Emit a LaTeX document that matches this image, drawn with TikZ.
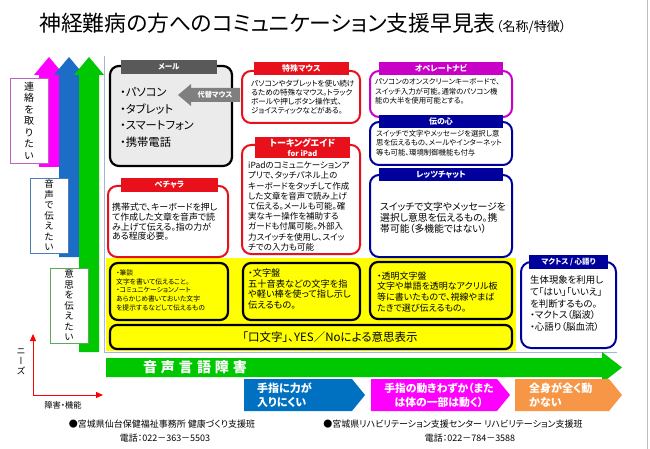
\documentclass[tikz,border=0pt]{standalone}
\usepackage{fontspec}
\setmainfont{Noto Sans CJK JP}[RawFeature=+palt]
\newfontfamily\jpv{Noto Sans CJK JP}[RawFeature=+vert]
\usetikzlibrary{arrows.meta}
\definecolor{magA}{HTML}{FF00FF}
\definecolor{blueA}{HTML}{1C6DC6}
\definecolor{greenA}{HTML}{00C800}
\definecolor{boxred}{HTML}{E8101A}
\definecolor{boxpurple}{HTML}{C800C8}
\definecolor{boxnavy}{HTML}{00009C}
\definecolor{tabgray}{HTML}{595959}
\definecolor{mailgray}{HTML}{EBEBEB}
\definecolor{altgray}{HTML}{7F7F7F}
\definecolor{ybg}{HTML}{FFFF00}
\definecolor{chevblue}{HTML}{0070C0}
\definecolor{chevorange}{HTML}{F79646}
\definecolor{framecol}{HTML}{9DB8D8}
\definecolor{lblmag}{HTML}{C060C0}
\definecolor{lblblue}{HTML}{4A7EBB}
\definecolor{lblgreen}{HTML}{5AAA5A}
\tikzset{
  txt/.style={inner sep=0pt, align=left, anchor=north west},
  tabtxt/.style={inner sep=0pt, text=white, align=center, font=\bfseries\fontsize{8}{9}\selectfont},
  cardred/.style={draw=boxred, line width=2pt, rounded corners=9pt, fill=white},
  cardpur/.style={draw=boxpurple, line width=2pt, rounded corners=9pt, fill=white},
  cardnavy/.style={draw=boxnavy, line width=2pt, rounded corners=9pt, fill=white},
  cardyel/.style={draw=black, line width=2.2pt, rounded corners=8pt, fill=ybg},
  lblbox/.style={fill=white, line width=0.8pt, minimum width=38pt, inner sep=0pt, align=center},
  chevtxt/.style={inner sep=0pt, text=white, font=\bfseries\fontsize{11}{14}\selectfont},
  foottxt/.style={inner sep=0pt, font=\fontsize{9}{10}\selectfont},
  axisarrow/.style={draw=red, line width=1pt, -{Triangle[length=7pt,width=6pt]}}
}
\begin{document}
\begin{tikzpicture}[x=1pt,y=-1pt]
\useasboundingbox (0,0) rectangle (650,449);
\fill[white] (0,0) rectangle (650,449);
\draw[gray!50, line width=1pt] (647,0) -- (647,449);

% title
\node[inner sep=0pt, anchor=west, font=\fontsize{21.8}{24}\selectfont] (title) at (39,23) {神経難病の方へのコミュニケーション支援早見表};
\node[inner sep=0pt, anchor=west, font=\fontsize{13}{14}\selectfont] (titlesub) at (title.east |- 0,27) {（名称/特徴）};

% vertical block arrows
\fill[magA] (39,167) -- (39,75) -- (34,75) -- (49,57) -- (64,75) -- (59,75) -- (59,167) -- cycle;
\fill[blueA] (59,257) -- (59,75) -- (54,75) -- (69,57) -- (84,75) -- (79,75) -- (79,257) -- cycle;
\fill[greenA] (79,352) -- (79,75) -- (74,75) -- (89,57) -- (104,75) -- (99,75) -- (99,352) -- cycle;

% label boxes
\node[lblbox, draw=lblmag, minimum height=85pt, font=\jpv\fontsize{10}{11.5}\selectfont] (lblmail) at (29,120.5) {連\\絡\\を\\取\\り\\た\\い};
\node[lblbox, draw=lblblue, minimum height=75pt, font=\jpv\fontsize{9.5}{10.5}\selectfont] (lblvoice) at (49,215.5) {音\\声\\で\\伝\\え\\た\\い};
\node[lblbox, draw=lblgreen, minimum height=75pt, font=\jpv\fontsize{9.5}{10.5}\selectfont] (lblintent) at (69,305.5) {意\\思\\を\\伝\\え\\た\\い};

% axes
\coordinate (ax0) at (33,395);
\coordinate (axy) at (33,334);
\coordinate (axx) at (103,395);
\draw[axisarrow] (ax0) -- (axy);
\draw[axisarrow] (ax0) -- (axx);
\node[inner sep=0pt, align=center, font=\jpv\fontsize{9}{10}\selectfont] (needs) at (21,362) {ニ\\ー\\ズ};
\node[inner sep=0pt, font=\fontsize{8.3}{9}\selectfont] (func) at (63,405) {障害・機能};

% frame and yellow background
\fill[ybg] (106,258) rectangle (516,351);
\draw[framecol, line width=0.9pt] (104,56) -- (104,352) -- (617,352);

% mail box
\draw[draw=black, line width=2.2pt, rounded corners=9pt, fill=mailgray] (110,66) rectangle (232,166);
\fill[tabgray] (121,60) rectangle (217,74);
\node[tabtxt, font=\bfseries\fontsize{7.5}{9}\selectfont] (mailtab) at (169,67) {メール};
\node[txt, font=\fontsize{11.3}{16.5}\selectfont] (mailitems) at (120,87.3) {・パソコン\\・タブレット\\・スマートフォン\\・携帯電話};
\fill[altgray] (178,95) -- (191,84) -- (191,88) -- (240,88) -- (240,102) -- (191,102) -- (191,106) -- cycle;
\node[tabtxt, font=\bfseries\fontsize{7.2}{8}\selectfont] (altmouse) at (215,95) {代替マウス};

% special mouse
\draw[cardred] (242,71) rectangle (360,123);
\fill[boxred] (254,62) rectangle (349,75);
\node[tabtxt] (sptab) at (301.5,68.5) {特殊マウス};
\node[txt, font=\fontsize{7.6}{9}\selectfont] (sptext) at (251,80.2) {パソコンやタブレットを使い続け\\るための特殊なマウス。トラック\\ボールや押しボタン操作式、\\ジョイスティックなどがある。};

% talking aid
\draw[cardred] (242,145) rectangle (360,254);
\fill[boxred] (255,137) rectangle (350,158);
\node[tabtxt, font=\bfseries\fontsize{9}{10}\selectfont] (tatab) at (302.5,147.5) {トーキングエイド\\{\fontsize{7.5}{9}\selectfont for iPad}};
\node[txt, font=\fontsize{8.5}{10.2}\selectfont] (tatext) at (248,161.8) {iPadのコミュニケーションア\\プリで、タッチパネル上の\\キーボードをタッチして作成\\した文章を音声で読み上げ\\て伝える。メールも可能。確\\実なキー操作を補助する\\ガードも付属可能。外部入\\力スイッチを使用し、スイッ\\チでの入力も可能};

% pechara
\draw[cardred] (108,186) rectangle (228,257);
\fill[boxred] (121,178) rectangle (218,192);
\node[tabtxt] (pctab) at (169.5,185) {ペチャラ};
\node[txt, font=\fontsize{8.9}{9.9}\selectfont] (pctext) at (112,202.6) {携帯式で、キーボードを押し\\て作成した文章を音声で読\\み上げて伝える。指の力が\\ある程度必要。};

% operate navi
\draw[cardpur] (370,71) rectangle (512,117);
\fill[boxpurple] (379,62) rectangle (503,75);
\node[tabtxt] (optab) at (441,68.5) {オペレートナビ};
\node[txt, font=\fontsize{7.4}{9.5}\selectfont] (optext) at (375,78.3) {パソコンのオンスクリーンキーボードで、\\スイッチ入力が可能。通常のパソコン機\\能の大半を使用可能とする。};

% den no shin
\draw[cardnavy] (370,122) rectangle (512,165);
\fill[boxnavy] (379,115) rectangle (503,128);
\node[tabtxt] (dentab) at (441,121.5) {伝の心};
\node[txt, font=\fontsize{7.4}{9.2}\selectfont] (dentext) at (376,130.3) {スイッチで文字やメッセージを選択し意\\思を伝えるもの、メールやインターネット\\等も可能、環境制御機能も付与};

% let's chat
\draw[cardnavy] (370,175) rectangle (512,257);
\fill[boxnavy] (379,168) rectangle (503,181);
\node[tabtxt] (lctab) at (441,174.5) {レッツチャット};
\node[txt, font=\fontsize{9.8}{11}\selectfont] (lctext) at (380,202.1) {スイッチで文字やメッセージを\\選択し意思を伝えるもの。携\\帯可能（多機能ではない）};

% yellow boxes
\draw[cardyel] (110,263) rectangle (228,320);
\node[txt, font=\fontsize{6.8}{8.7}\selectfont] (hitsudan) at (116,269.6) {・筆談\\文字を書いて伝えること。\\・コミュニケーションノート\\あらかじめ書いておいた文字\\を提示するなどして伝えるもの};
\draw[cardyel] (243,263) rectangle (360,320);
\node[txt, font=\fontsize{9.2}{10.7}\selectfont] (mojiban) at (248,268.4) {・文字盤\\五十音表などの文字を指\\や軽い棒を使って指し示し\\伝えるもの。};
\draw[cardyel] (370,262) rectangle (512,319);
\node[txt, font=\fontsize{9}{10.6}\selectfont] (toumei) at (377,271.5) {・透明文字盤\\文字や単語を透明なアクリル板\\等に書いたもので、視線やまば\\たきで選び伝えるもの。};
\draw[cardyel, rounded corners=7pt] (110,325) rectangle (512,349);
\node[inner sep=0pt, font=\fontsize{11.5}{13}\selectfont] (kuchimoji) at (330,337) {「口文字」、YES／Noによる意思表示};

% maktos
\draw[cardnavy, rounded corners=10pt] (521,262) rectangle (616,348);
\fill[boxnavy] (529,255) rectangle (608,269);
\node[tabtxt, font=\bfseries\fontsize{7.5}{9}\selectfont] (mktab) at (568.5,262) {マクトス / 心語り};
\node[txt, font=\fontsize{9.4}{11.8}\selectfont] (mktext) at (530,275.3) {生体現象を利用し\\て「はい」「いいえ」\\を判断するもの。\\・マクトス（脳波）\\・心語り（脳血流）};

% horizontal green arrow
\fill[greenA] (106,358) -- (602,358) -- (602,352) -- (622,367.5) -- (602,383) -- (602,377) -- (106,377) -- cycle;
\node[inner sep=0pt, text=white, font=\bfseries\fontsize{14}{16}\selectfont] (speech) at (195,367.5) {音\hspace{4pt}声\hspace{4pt}言\hspace{4pt}語\hspace{4pt}障\hspace{4pt}害};

% chevrons
\fill[chevblue] (244,379) -- (352,379) -- (365,395) -- (352,411) -- (244,411) -- cycle;
\node[chevtxt, align=left, anchor=north west] (chev1) at (257,382.2) {手指に力が\\入りにくい};
\fill[magA] (371,379) -- (497,379) -- (510,395) -- (497,411) -- (371,411) -- cycle;
\node[chevtxt, align=center, font=\bfseries\fontsize{10.8}{14}\selectfont] (chev2) at (439,395.5) {手指の動きわずか（また\\は体の一部は動く）};
\fill[chevorange] (515,379) -- (609,379) -- (622,395) -- (609,411) -- (515,411) -- cycle;
\node[chevtxt, align=left, anchor=north west] (chev3) at (529,382.2) {全身が全く動\\かない};

% footer
\node[foottxt] (foot1a) at (162,424) {●宮城県仙台保健福祉事務所 健康づくり支援班};
\node[foottxt] (foot1b) at (165,438) {電話：022－363－5503};
\node[foottxt] (foot2a) at (453,424) {●宮城県リハビリテーション支援センター リハビリテーション支援班};
\node[foottxt] (foot2b) at (470,438) {電話：022－784－3588};
\end{tikzpicture}
\end{document}
